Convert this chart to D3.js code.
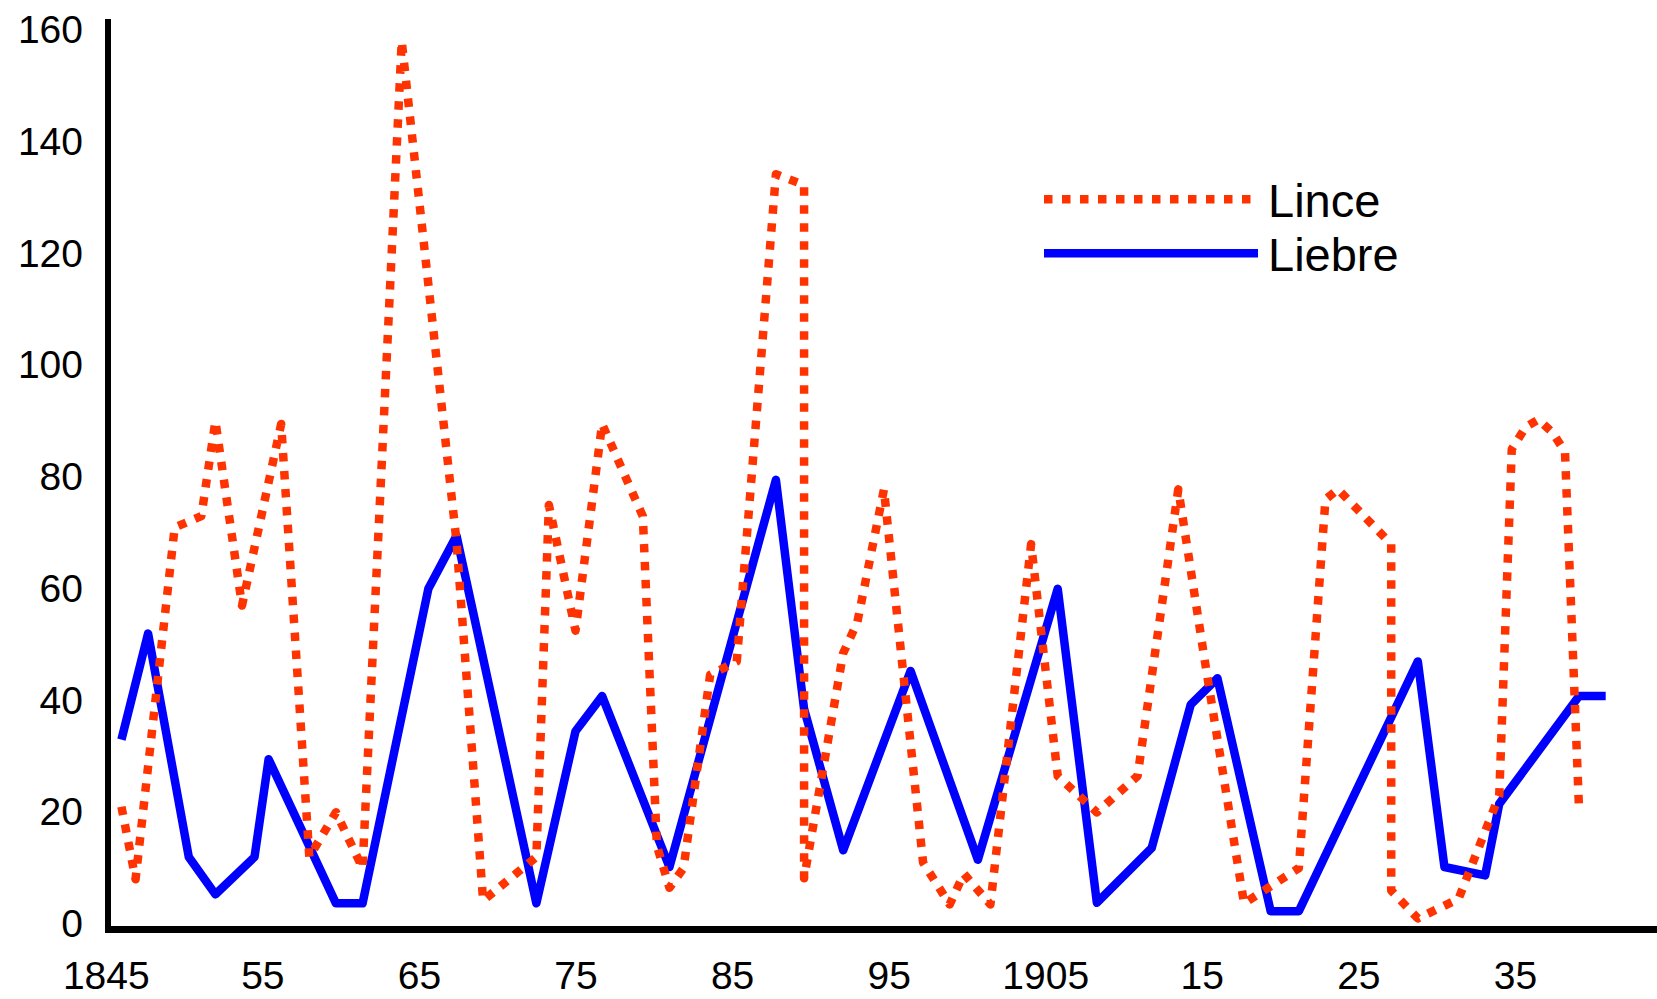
<!DOCTYPE html>
<html>
<head>
<meta charset="utf-8">
<script src="https://cdn.jsdelivr.net/npm/d3@7"></script>
<style>
  body { margin: 0; background: #fff; }
  svg { display: block; }
</style>
</head>
<body>
<div id="chart"></div>
<script>
// Lince (dotted red)
const linceYears = [1846.0, 1846.9, 1849.4, 1851.1, 1852.0, 1853.7, 1856.2, 1858.0, 1859.7, 1861.4,
    1863.9, 1867.4, 1869.1, 1872.5, 1873.3, 1875.0, 1876.7, 1879.3, 1880.2, 1881.0,
    1881.9, 1883.6, 1885.3, 1887.8, 1889.6, 1889.6, 1892.1, 1893.0, 1894.7, 1897.2,
    1898.9, 1899.8, 1901.5, 1904.1, 1905.8, 1908.3, 1910.9, 1913.5, 1915.2, 1917.7,
    1921.2, 1922.9, 1923.7, 1927.1, 1927.1, 1928.8, 1931.4, 1934.0, 1934.8, 1935.7,
    1936.5, 1937.4, 1938.2, 1939.1];
const linceValues = [21, 8, 71, 73, 90, 57, 89.5, 12, 20, 10,
    158, 68.5, 4.2, 12, 75, 52.5, 89.5, 73, 14, 6.5,
    10, 44.6, 47, 134.2, 132.3, 8.2, 48.5, 54, 77.8, 11,
    3.5, 9, 3.5, 68, 26.5, 20, 26.5, 77.8, 47, 3.7,
    10, 76, 77.8, 68, 6, 1, 4.5, 23, 85, 89,
    90.3, 88, 84.5, 20.3];

// Liebre (solid blue)
const liebreYears = [1846.0, 1847.7, 1850.3, 1852.0, 1854.5, 1855.4, 1859.7, 1861.4, 1865.6, 1867.4,
    1872.5, 1875.0, 1876.7, 1881.0, 1887.8, 1889.6, 1892.1, 1896.4, 1900.7, 1905.8,
    1908.3, 1911.8, 1914.3, 1916.0, 1919.4, 1921.2, 1928.8, 1930.5, 1933.1, 1934.0,
    1939.1, 1940.8];
const liebreValues = [33, 52, 12, 5.3, 12, 29.5, 3.7, 3.7, 60, 69.5,
    3.7, 34.5, 40.8, 10.2, 79.5, 38.5, 13.2, 45.3, 11.5, 60,
    3.8, 13.6, 39.3, 44, 2.3, 2.3, 47, 10.2, 8.7, 21.5,
    40.8, 40.8];

const xTickYears = [1845, 1855, 1865, 1875, 1885, 1895, 1905, 1915, 1925, 1935];
const xTickLabels = ["1845", "55", "65", "75", "85", "95", "1905", "15", "25", "35"];
const yTickValues = [0, 20, 40, 60, 80, 100, 120, 140, 160];
const seriesNames = ["Lince", "Liebre"];

const width = 1657;
const height = 999;
const axisX = 108;
const axisY = 929.5;
const font = '"Liberation Sans", Arial, sans-serif';
const red = "#FF3300";
const blue = "#0000FF";

const svg = d3.select("#chart").append("svg")
    .attr("width", width)
    .attr("height", height)
    .style("background", "#fff");

const x = d3.scaleLinear().domain([1845, 1935]).range([105.8, 1514.9]);
const y = d3.scaleLinear().domain([0, 162]).range([924, 19]);

// tick labels (no tick marks in the original)
svg.append("g")
    .attr("transform", `translate(${axisX},0)`)
    .call(d3.axisLeft(y).tickValues(yTickValues).tickSize(0).tickPadding(25))
    .call(g => g.select(".domain").remove())
    .attr("font-size", 39)
    .attr("font-family", font)
    .selectAll("text").attr("fill", "#000");

svg.append("g")
    .attr("transform", `translate(0,${axisY})`)
    .call(d3.axisBottom(x).tickValues(xTickYears).tickFormat((d, i) => xTickLabels[i]).tickSize(0).tickPadding(32))
    .call(g => g.select(".domain").remove())
    .attr("font-size", 39)
    .attr("font-family", font)
    .selectAll("text").attr("fill", "#000");

// axis lines
svg.append("line")
    .attr("x1", axisX).attr("x2", axisX)
    .attr("y1", y(162)).attr("y2", axisY + 3.5)
    .attr("stroke", "#000").attr("stroke-width", 6);
svg.append("line")
    .attr("x1", axisX - 3).attr("x2", width)
    .attr("y1", axisY).attr("y2", axisY)
    .attr("stroke", "#000").attr("stroke-width", 7);

const line = d3.line()
    .x(d => x(d[0]))
    .y(d => y(d[1]));

const liebre = d3.zip(liebreYears, liebreValues);
const lince = d3.zip(linceYears, linceValues);

svg.append("path")
    .datum(liebre)
    .attr("d", line)
    .attr("fill", "none")
    .attr("stroke", blue)
    .attr("stroke-width", 8.5)
    .attr("stroke-linejoin", "round");

svg.append("path")
    .datum(lince)
    .attr("d", line)
    .attr("fill", "none")
    .attr("stroke", red)
    .attr("stroke-width", 8.5)
    .attr("stroke-dasharray", "8.5 9.5")
    .attr("stroke-linejoin", "round");

// legend
const legend = svg.append("g").attr("transform", "translate(1044,199.3)");
const styles = [
    { color: red, dash: "8.5 9.5", len: 209 },
    { color: blue, dash: null, len: 214 }
];
seriesNames.forEach((name, i) => {
    const row = legend.append("g").attr("transform", `translate(0,${i * 54})`);
    row.append("line")
        .attr("x1", 0).attr("x2", styles[i].len)
        .attr("y1", 0).attr("y2", 0)
        .attr("stroke", styles[i].color)
        .attr("stroke-width", 8.5)
        .attr("stroke-dasharray", styles[i].dash);
    row.append("text")
        .attr("x", 224)
        .attr("y", 17.5)
        .attr("font-family", font)
        .attr("font-size", 47)
        .attr("fill", "#000")
        .text(name);
});
</script>
</body>
</html>
